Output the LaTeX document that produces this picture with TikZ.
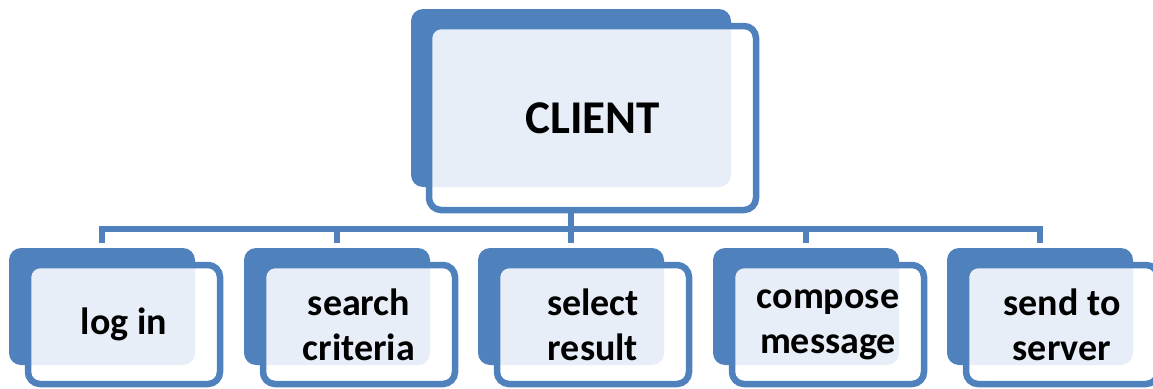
\documentclass[tikz,border=0pt]{standalone}
\usepackage{fontspec}
\setmainfont{Carlito}
\begin{document}
\begin{tikzpicture}[x=1pt,y=-1pt,
  every node/.style={inner sep=0pt,outer sep=0pt},
  backbox/.style={fill=boxblue,rounded corners=12pt},
  frontbox/.style={draw=boxblue,line width=6.5pt,fill=white,rounded corners=12pt,
    font=\bfseries\fontsize{38}{45}\selectfont,align=center},
  conn/.style={draw=boxblue,line width=5.5pt}]
\definecolor{boxblue}{HTML}{4F81BD}
\definecolor{pale}{HTML}{E8EEF7}
\useasboundingbox (0,0) rectangle (1153,388);

% top box: shaded back panel, then the framed front card
\node[backbox,minimum width=320pt,minimum height=178pt] (clientback) at (571,98) {};
\node[frontbox,minimum width=327pt,minimum height=184pt,
  font=\bfseries\fontsize{47}{56}\selectfont,
  path picture={\fill[pale,rounded corners=12pt] (clientback.north west) rectangle (clientback.south east);}]
  (client) at (592.5,118) {CLIENT};

% the five task boxes
\foreach \i/\x/\txt in {1/9/log in,2/244/search\\criteria,3/478/select\\result,
                        4/713/compose\\message,5/947/send to\\server}{
  \node[backbox,minimum width=186pt,minimum height=117pt] (b\i back) at (\x+93,306.5) {};
  \node[frontbox,minimum width=192pt,minimum height=119pt,
    path picture={\fill[pale,rounded corners=12pt] (b\i back.north west) rectangle (b\i back.south east);}]
    (b\i) at (\x+19+96,324.5) {\txt};
}

% tree connectors
\coordinate (bus) at (571,229);
\foreach \i in {1,...,5}{
  \draw[conn] (client.south -| clientback.south) -- (clientback.south |- bus)
    -| ([yshift=5pt]b\i back.north);
}
\end{tikzpicture}
\end{document}
